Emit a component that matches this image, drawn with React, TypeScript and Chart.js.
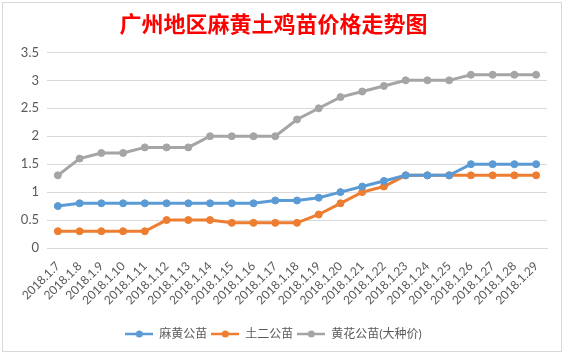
import React, { useEffect, useRef } from 'react';
import { Chart, registerables } from 'chart.js';

Chart.register(...registerables);

const TITLE = '广州地区麻黄土鸡苗价格走势图';

const categories = [
  '2018.1.7', '2018.1.8', '2018.1.9', '2018.1.10', '2018.1.11', '2018.1.12',
  '2018.1.13', '2018.1.14', '2018.1.15', '2018.1.16', '2018.1.17', '2018.1.18',
  '2018.1.19', '2018.1.20', '2018.1.21', '2018.1.22', '2018.1.23', '2018.1.24',
  '2018.1.25', '2018.1.26', '2018.1.27', '2018.1.28', '2018.1.29',
];

const mahuangLabel = '麻黄公苗';
const mahuang = [0.75, 0.8, 0.8, 0.8, 0.8, 0.8, 0.8, 0.8, 0.8, 0.8, 0.85, 0.85, 0.9, 1.0, 1.1, 1.2, 1.3, 1.3, 1.3, 1.5, 1.5, 1.5, 1.5];

const tuerLabel = '土二公苗';
const tuer = [0.3, 0.3, 0.3, 0.3, 0.3, 0.5, 0.5, 0.5, 0.45, 0.45, 0.45, 0.45, 0.6, 0.8, 1.0, 1.1, 1.3, 1.3, 1.3, 1.3, 1.3, 1.3, 1.3];

const huanghuaLabel = '黄花公苗(大种价)';
const huanghua = [1.3, 1.6, 1.7, 1.7, 1.8, 1.8, 1.8, 2.0, 2.0, 2.0, 2.0, 2.3, 2.5, 2.7, 2.8, 2.9, 3.0, 3.0, 3.0, 3.1, 3.1, 3.1, 3.1];

const yMin = 0;
const yMax = 3.5;
const yStep = 0.5;

const COLORS = ['#5B9BD5', '#ED7D31', '#A5A5A5'];
const FONT = "Lato, 'Noto Sans CJK SC', sans-serif";

function legendMarker(color: string): HTMLCanvasElement {
  const c = document.createElement('canvas');
  c.width = 28;
  c.height = 10;
  const ctx = c.getContext('2d')!;
  ctx.strokeStyle = color;
  ctx.lineWidth = 2.5;
  ctx.beginPath();
  ctx.moveTo(0, 5);
  ctx.lineTo(28, 5);
  ctx.stroke();
  ctx.fillStyle = color;
  ctx.beginPath();
  ctx.arc(14, 5, 3.5, 0, Math.PI * 2);
  ctx.fill();
  return c;
}

const framePlugin = {
  id: 'frame',
  beforeDraw(chart: any) {
    const { ctx, width, height } = chart;
    ctx.save();
    ctx.fillStyle = '#ffffff';
    ctx.fillRect(0, 0, width, height);
    ctx.strokeStyle = '#D9D9D9';
    ctx.lineWidth = 1;
    ctx.strokeRect(2.5, 2.5, width - 5, height - 6);
    ctx.restore();
  },
};

export default function App() {
  const ref = useRef<HTMLCanvasElement | null>(null);

  useEffect(() => {
    if (!ref.current) return;
    const series = [
      { label: mahuangLabel, data: mahuang },
      { label: tuerLabel, data: tuer },
      { label: huanghuaLabel, data: huanghua },
    ];
    const chart = new Chart(ref.current, {
      type: 'line',
      data: {
        labels: categories,
        datasets: series.map((s, i) => ({
          label: s.label,
          data: s.data,
          borderColor: COLORS[i],
          backgroundColor: COLORS[i],
          borderWidth: 3,
          pointRadius: 3.5,
          pointBorderWidth: 1,
          pointBackgroundColor: COLORS[i],
          pointBorderColor: COLORS[i],
          tension: 0,
        })),
      },
      options: {
        animation: false,
        responsive: false,
        maintainAspectRatio: false,
        layout: { padding: { left: 0, right: 17, top: 0, bottom: 5 } },
        plugins: {
          title: {
            display: true,
            text: TITLE,
            color: '#FF0000',
            font: { family: "'Noto Sans CJK SC', sans-serif", size: 22, weight: 'bold', lineHeight: 1.2 },
            padding: { top: 10, bottom: 16 },
          },
          legend: {
            display: true,
            position: 'bottom',
            labels: {
              usePointStyle: true,
              pointStyleWidth: 28,
              padding: 4,
              color: '#595959',
              font: { family: FONT, size: 12 },
              generateLabels: (ch: any) => {
                const items = Chart.defaults.plugins.legend.labels.generateLabels(ch);
                return items.map((it: any, i: number) => ({ ...it, pointStyle: legendMarker(COLORS[i]) }));
              },
            },
          },
          tooltip: { enabled: false },
        },
        scales: {
          x: {
            offset: true,
            grid: { display: false, drawTicks: false },
            border: { display: true, color: '#D9D9D9', width: 1 },
            ticks: {
              autoSkip: false,
              maxRotation: 45,
              minRotation: 45,
              padding: 11,
              color: '#595959',
              font: { family: FONT, size: 12 },
            },
            afterFit: (scale: any) => {
              scale.height = 76;
            },
          },
          y: {
            min: yMin,
            max: yMax,
            grid: { color: '#D9D9D9', lineWidth: 1, drawTicks: false },
            border: { display: false },
            ticks: {
              stepSize: yStep,
              padding: 8,
              color: '#595959',
              font: { family: FONT, size: 13 },
              callback: (v: any) => String(Number(v)),
            },
            afterFit: (scale: any) => {
              scale.width = 47;
            },
          },
        },
      },
      plugins: [framePlugin],
    });
    return () => chart.destroy();
  }, []);

  return (
    <div style={{ position: 'absolute', left: 0, top: 0, width: 564, height: 355 }}>
      <canvas ref={ref} width={564} height={355} style={{ width: 564, height: 355, display: 'block' }} />
    </div>
  );
}
